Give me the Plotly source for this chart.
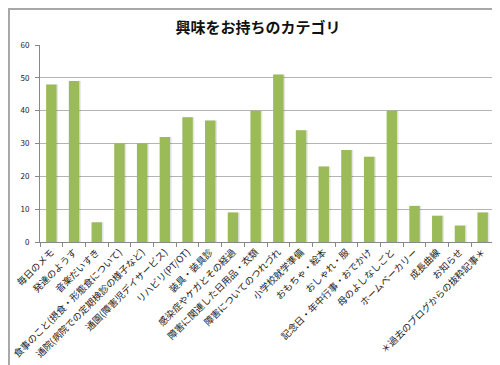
import plotly.graph_objects as go

categories = [
    "毎日のメモ", "発達のようす", "音楽だいすき", "食事のこと(摂食・形態食について)",
    "通院(病院での定期検診の様子など)", "通園(障害児デイサービス)", "リハビリ(PT/OT)",
    "装具・装具診", "感染症やケガとその経過", "障害に関連した日用品・衣類",
    "障害についてのつれづれ", "小学校就学準備", "おもちゃ・絵本", "おしゃれ・服",
    "記念日・年中行事・おでかけ", "母のよしなしごと", "ホームベーカリー", "成長曲線",
    "お知らせ", "＊過去のブログからの抜粋記事＊",
]
values = [48, 49, 6, 30, 30, 32, 38, 37, 9, 40, 51, 34, 23, 28, 26, 40, 11, 8, 5, 9]
y_ticks = [0, 10, 20, 30, 40, 50, 60]

W, H = 500, 365
ml, mr, mt, mb = 32, 14, 37, 131
pw = W - ml - mr
ph = H - mt - mb

fig = go.Figure()
# soft shadow
fig.add_trace(go.Bar(x=categories, y=values, marker=dict(color="rgba(0,0,0,0.10)", line=dict(width=0)),
                     offset=-0.20, width=0.50, hoverinfo="skip", showlegend=False))
fig.add_trace(go.Bar(x=categories, y=values, marker=dict(color="#9BBB59", line=dict(width=0)),
                     offset=-0.23, width=0.46, showlegend=False))

fig.update_layout(
    width=W, height=H,
    margin=dict(l=ml, r=mr, t=mt, b=mb, autoexpand=False),
    paper_bgcolor="white", plot_bgcolor="white",
    barmode="overlay",
    font=dict(family="Noto Sans CJK JP", color="#222"),
    title=dict(text="<b>興味をお持ちのカテゴリ</b>", x=0.5, xanchor="center", y=1 - 20 / H, yanchor="middle",
               font=dict(size=15, color="#111", family="Noto Sans CJK JP")),
    xaxis=dict(type="category", tickangle=-45, tickfont=dict(size=9.5, color="#222"),
               ticks="outside", tickson="boundaries", ticklen=4, tickcolor="#888",
               showline=True, linecolor="#888", linewidth=1, showgrid=False, automargin=False,
               range=[-0.5, len(categories) - 0.5]),
    yaxis=dict(range=[0, 60], tickvals=y_ticks, tickfont=dict(size=8, color="#222"),
               showgrid=True, gridcolor="#b4b4b4", gridwidth=1.2,
               ticks="outside", ticklen=4, tickcolor="#888", ticklabelstandoff=4,
               showline=True, linecolor="#888", linewidth=1, zeroline=False, automargin=False),
)

fig.add_shape(type="rect", xref="paper", yref="paper",
              x0=-(ml - 1) / pw, x1=1 + (mr - 1) / pw, y0=-(mb - 1) / ph, y1=1 + (mt - 1) / ph,
              line=dict(color="#a8a8a8", width=2), fillcolor="rgba(0,0,0,0)", layer="above")

fig.write_html("out.html")
